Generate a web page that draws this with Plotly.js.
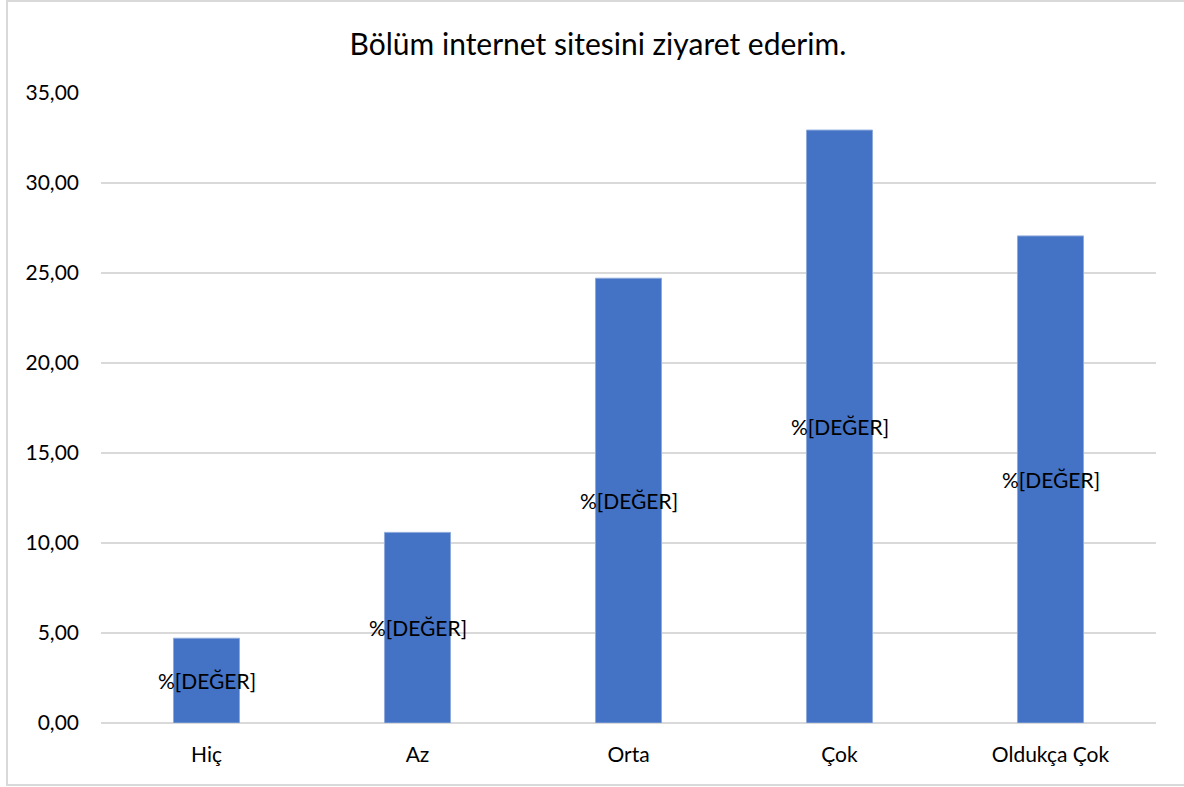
<!DOCTYPE html>
<html>
<head>
<meta charset="utf-8">
<script src="https://cdn.plot.ly/plotly-3.0.1.min.js"></script>
<style>
  html, body { margin: 0; padding: 0; background: #ffffff; }
  #chart { position: absolute; left: 0; top: 0; width: 1184px; height: 787px; }
  #frame { position: absolute; left: 6px; top: 0px; width: 1180px; height: 786px;
           border: 2px solid #d9d9d9; box-sizing: border-box; pointer-events: none; }
</style>
</head>
<body>
<div id="chart"></div>
<div id="frame"></div>
<script>
const categories = ["Hiç", "Az", "Orta", "Çok", "Oldukça Çok"];
const values = [4.71, 10.59, 24.71, 32.94, 27.06];
const dataLabels = ["%[DEĞER]", "%[DEĞER]", "%[DEĞER]", "%[DEĞER]", "%[DEĞER]"];
const yTickVals = [0, 5, 10, 15, 20, 25, 30, 35];
const yTickText = ["0,00", "5,00", "10,00", "15,00", "20,00", "25,00", "30,00", "35,00"];
const titleText = "Bölüm internet sitesini ziyaret ederim.";

const FONT = "Lato, 'Open Sans', sans-serif";

const trace = {
  type: "bar",
  x: categories,
  y: values,
  marker: { color: "#4472c4", line: { color: "#8eaadb", width: 1 } },
  width: 0.313,
  hoverinfo: "x+y"
};

const annotations = categories.map((c, i) => ({
  x: c, y: values[i] / 2, xref: "x", yref: "y",
  text: dataLabels[i], showarrow: false,
  font: { family: FONT, size: 21, color: "#000000" },
  xanchor: "center", yanchor: "middle"
}));

const layout = {
  width: 1184, height: 787,
  margin: { l: 101, r: 28, t: 93, b: 64, pad: 0 },
  paper_bgcolor: "#ffffff", plot_bgcolor: "#ffffff",
  title: { text: titleText, x: 0.505, xanchor: "center", y: 0.943, yanchor: "middle",
           font: { family: FONT, size: 30, color: "#000000" } },
  showlegend: false,
  bargap: 0.687,
  xaxis: {
    type: "category",
    tickfont: { family: FONT, size: 21, color: "#000000" },
    showgrid: false, zeroline: false, showline: false, ticks: "",
    ticklabelstandoff: 17
  },
  yaxis: {
    range: [0, 35],
    tickvals: yTickVals, ticktext: yTickText,
    tickfont: { family: FONT, size: 21, color: "#000000" },
    showgrid: true, gridcolor: "#d9d9d9", gridwidth: 2,
    zeroline: true, zerolinecolor: "#d9d9d9", zerolinewidth: 2,
    showline: false, ticks: "", ticklabelstandoff: 21
  },
  annotations: annotations
};

Plotly.newPlot("chart", [trace], layout, { displayModeBar: false, staticPlot: true });
</script>
</body>
</html>
